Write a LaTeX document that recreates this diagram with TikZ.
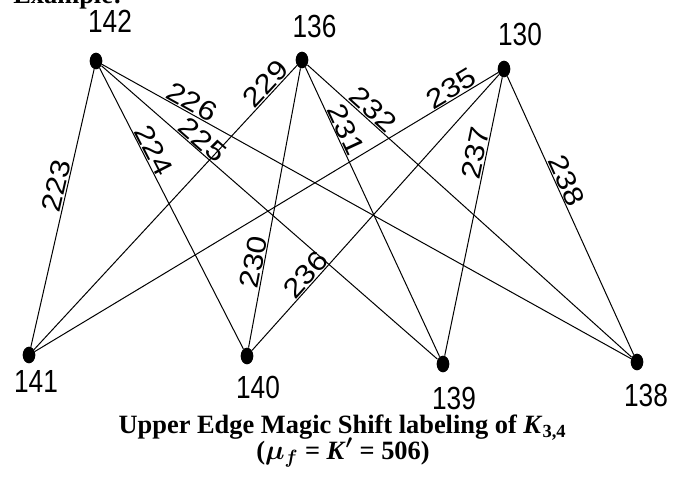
\documentclass[tikz,border=0pt]{standalone}
\usepackage{fontspec}
\setmainfont{Liberation Serif}
\newfontfamily\nlabfont[FakeStretch=0.82]{Liberation Sans}
\newfontfamily\elabfont[FakeStretch=1.15]{Liberation Sans}
\usetikzlibrary{shapes.geometric}
\begin{document}
\begin{tikzpicture}[x=0.75pt,y=-0.75pt,
  vdot/.style={ellipse, fill=black, minimum width=9.5pt, minimum height=12.5pt, inner sep=0pt},
  vlab/.style={font=\nlabfont\fontsize{24}{24}\selectfont, inner sep=0pt},
  elab/.style={font=\elabfont\fontsize{20.5}{20}\selectfont, inner sep=0.5pt, above, sloped},
  link/.style={line width=0.75pt},
  ttl/.style={font=\bfseries\fontsize{19.8}{20}\selectfont, inner sep=0pt, anchor=base}]
\useasboundingbox (0,0) rectangle (682,480);
% top vertices
\node[vdot] (a1) at (96,61) {};
\node[vdot] (a2) at (302,60) {};
\node[vdot] (a3) at (504,69) {};
% bottom vertices
\node[vdot] (b1) at (29,355) {};
\node[vdot] (b2) at (247,356) {};
\node[vdot] (b3) at (443,364) {};
\node[vdot] (b4) at (637,362) {};
% vertex labels
\node[vlab] (la1) at (110,21.5) {142};
\node[vlab] (la2) at (314.5,26.5) {136};
\node[vlab] (la3) at (520,34.5) {130};
\node[vlab] (lb1) at (36,381.5) {141};
\node[vlab] (lb2) at (258,387) {140};
\node[vlab] (lb3) at (454,398) {139};
\node[vlab] (lb4) at (646,395) {138};
% edges
\draw[link] (a1) -- node[elab,pos=0.43] {223} (b1);
\draw[link] (a1) -- node[elab,pos=0.31] {224} (b2);
\draw[link] (a1) -- node[elab,pos=0.28] {225} (b3);
\draw[link] (a1) -- node[elab,pos=0.16] {226} (b4);
\draw[link] (a2) -- node[elab,pos=0.09] {229} (b1);
\draw[link] (a2) -- node[elab,pos=0.70] {230} (b2);
\draw[link] (a2) -- node[elab,pos=0.23] {231} (b3);
\draw[link] (a2) -- node[elab,pos=0.18] {232} (b4);
\draw[link] (a3) -- node[elab,pos=0.09] {235} (b1);
\draw[link] (a3) -- node[elab,pos=0.75] {236} (b2);
\draw[link] (a3) -- node[elab,pos=0.28] {237} (b3);
\draw[link] (a3) -- node[elab,pos=0.39] {238} (b4);
% titles
\node[ttl, anchor=base west] (ex) at (13,3) {Example:};
\node[ttl] (t1) at (342.5,433) {Upper Edge Magic Shift labeling of \textit{K}\textsubscript{3,4}};
\node[ttl] (t2) at (343,459) {({\boldmath$\mu_f$} = \textit{K}{\boldmath$'$} = 506)};
\end{tikzpicture}
\end{document}
